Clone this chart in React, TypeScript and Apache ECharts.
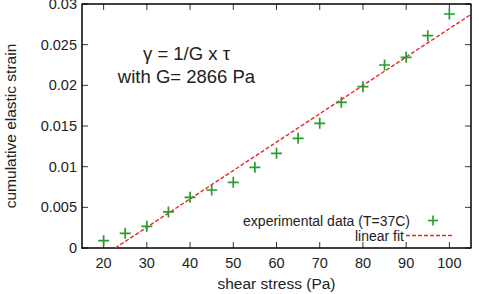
import React, { useEffect, useRef } from "react";
import * as echarts from "echarts";

// Shear stress (Pa) and cumulative elastic strain measured at T=37C
const stress = [20, 25, 30, 35, 40, 45, 50, 55, 60, 65, 70, 75, 80, 85, 90, 95, 100];
const strain = [
  0.0009, 0.0018, 0.00267, 0.00443, 0.00623, 0.00713, 0.00808, 0.00992, 0.01164,
  0.01349, 0.01533, 0.01791, 0.01983, 0.0225, 0.02344, 0.0261, 0.02877,
];

// Linear fit: strain = (stress - stressOffset) / G
const shearModulus = 2866;
const stressOffset = 22.7;
const fitStressRange = [stressOffset, 105];

const xRange = [15, 105];
const yRange = [0, 0.03];
const xTicks = [20, 30, 40, 50, 60, 70, 80, 90, 100];
const yTicks = [0, 0.005, 0.01, 0.015, 0.02, 0.025, 0.03];

const FONT = "Liberation Sans, Arial, Helvetica, sans-serif";
const GREEN = "#2c9a2c";
const RED = "#e8262a";
const TEXT = "#222";

const PLUS = "path://M9.3,0H12.7V9.3H22V12.7H12.7V22H9.3V12.7H0V9.3H9.3Z";
const TICK_LEN = 6;

export default function App() {
  const ref = useRef<HTMLDivElement>(null);

  useEffect(() => {
    if (!ref.current) return;
    const chart = echarts.init(ref.current, null, { renderer: "svg" });

    const fitLine = fitStressRange.map((s) => [s, (s - stressOffset) / shearModulus]);

    // inward tick marks on all four sides of the frame
    const tickSeries = (data: number[][], size: number[], offset: number[]) => ({
      type: "scatter",
      silent: true,
      clip: false,
      data,
      symbol: "rect",
      symbolSize: size,
      symbolOffset: offset,
      itemStyle: { color: "#000" },
      z: 1,
    });

    const axisLine = { show: true, onZero: false, lineStyle: { color: "#000", width: 1.5 } };

    chart.setOption({
      animation: false,
      grid: {
        left: 82,
        right: 8,
        top: 4,
        bottom: 46,
        containLabel: false,
        outerBoundsMode: "none",
      },
      xAxis: {
        type: "value",
        min: xRange[0],
        max: xRange[1],
        name: "shear stress (Pa)",
        nameLocation: "middle",
        nameGap: 27,
        nameTextStyle: { fontFamily: FONT, fontSize: 15.5, color: TEXT },
        axisLine,
        axisTick: { show: false },
        axisLabel: {
          customValues: xTicks,
          fontFamily: FONT,
          fontSize: 14.5,
          color: TEXT,
          margin: 7,
        },
        splitLine: { show: false },
      },
      yAxis: {
        type: "value",
        min: yRange[0],
        max: yRange[1],
        name: "cumulative elastic strain",
        nameLocation: "middle",
        nameGap: 64,
        nameTextStyle: { fontFamily: FONT, fontSize: 15.5, color: TEXT },
        axisLine,
        axisTick: { show: false },
        axisLabel: {
          customValues: yTicks,
          formatter: (v: number) => String(parseFloat(v.toFixed(4))),
          fontFamily: FONT,
          fontSize: 14.5,
          color: TEXT,
          margin: 5,
        },
        splitLine: { show: false },
      },
      series: [
        // frame: top and right edges
        {
          type: "line",
          silent: true,
          symbol: "none",
          clip: false,
          data: [
            [xRange[0], yRange[1]],
            [xRange[1], yRange[1]],
            [xRange[1], yRange[0]],
          ],
          lineStyle: { color: "#000", width: 1.5 },
          z: 1,
        },
        tickSeries(xTicks.map((x) => [x, yRange[0]]), [1, TICK_LEN], [0, -TICK_LEN / 2]),
        tickSeries(xTicks.map((x) => [x, yRange[1]]), [1, TICK_LEN], [0, TICK_LEN / 2]),
        tickSeries(yTicks.map((y) => [xRange[0], y]), [TICK_LEN, 1], [TICK_LEN / 2, 0]),
        tickSeries(yTicks.map((y) => [xRange[1], y]), [TICK_LEN, 1], [-TICK_LEN / 2, 0]),
        {
          name: "linear fit",
          type: "line",
          data: fitLine,
          symbol: "none",
          clip: true,
          lineStyle: { color: RED, width: 1.4, type: [4, 2] },
          z: 2,
        },
        {
          name: "experimental data (T=37C)",
          type: "scatter",
          data: stress.map((s, i) => [s, strain[i]]),
          symbol: PLUS,
          symbolSize: 11,
          itemStyle: { color: GREEN, opacity: 1 },
          z: 3,
        },
      ],
      graphic: [
        {
          type: "text",
          x: 186.5,
          y: 53,
          style: {
            text: "γ = 1/G x τ",
            align: "center",
            verticalAlign: "middle",
            fontFamily: FONT,
            fontSize: 18.5,
            fill: TEXT,
          },
        },
        {
          type: "text",
          x: 186.5,
          y: 76,
          style: {
            text: "with G= 2866 Pa",
            align: "center",
            verticalAlign: "middle",
            fontFamily: FONT,
            fontSize: 18.5,
            fill: TEXT,
          },
        },
        {
          type: "text",
          x: 410,
          y: 220.5,
          style: {
            text: "experimental data (T=37C)",
            align: "right",
            verticalAlign: "middle",
            fontFamily: FONT,
            fontSize: 14,
            fill: TEXT,
          },
        },
        {
          type: "line",
          shape: { x1: 428, y1: 220.5, x2: 438, y2: 220.5 },
          style: { stroke: GREEN, lineWidth: 1.6 },
        },
        {
          type: "line",
          shape: { x1: 433, y1: 215.5, x2: 433, y2: 225.5 },
          style: { stroke: GREEN, lineWidth: 1.6 },
        },
        {
          type: "text",
          x: 404,
          y: 235.5,
          style: {
            text: "linear fit",
            align: "right",
            verticalAlign: "middle",
            fontFamily: FONT,
            fontSize: 14,
            fill: TEXT,
          },
        },
        {
          type: "line",
          shape: { x1: 406, y1: 235.5, x2: 453, y2: 235.5 },
          style: { stroke: RED, lineWidth: 1.4, lineDash: [4, 2] },
        },
      ],
    });

    return () => chart.dispose();
  }, []);

  return (
    <div
      ref={ref}
      style={{ position: "fixed", left: 0, top: 0, width: 479, height: 294, background: "#fff" }}
    />
  );
}
